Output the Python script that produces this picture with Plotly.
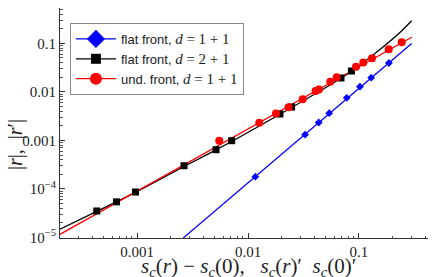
import plotly.graph_objects as go

# ---- data ----
flat11_x = [0.01165, 0.03266, 0.0434, 0.0539, 0.0776, 0.102, 0.1288, 0.1862]
flat11_y = [1.79e-4, 1.31e-3, 2.34e-3, 3.63e-3, 7.54e-3, 0.01277, 0.01955, 0.0393]
flat11_fit_x = [0.00261, 0.2985]
flat11_fit_y = [9.8e-6, 0.0990]

flat21_x = [4.34e-4, 6.53e-4, 9.69e-4, 2.65e-3, 5.15e-3, 7.13e-3, 0.0194, 0.0247, 0.0689, 0.0855]
flat21_y = [3.52e-5, 5.43e-5, 8.65e-5, 3.01e-4, 6.43e-4, 9.86e-4, 3.50e-3, 4.88e-3, 0.0193, 0.0269]
flat21_fit_x = [2.02e-4, 4.34e-4, 9.69e-4, 2.65e-3, 7.13e-3, 0.0194, 0.0446, 0.0855, 0.1545, 0.2339, 0.2985]
flat21_fit_y = [1.48e-5, 3.44e-5, 8.53e-5, 2.90e-4, 9.48e-4, 3.45e-3, 0.0104, 0.0262, 0.0744, 0.1667, 0.292]

und11_x = [5.51e-3, 0.01264, 0.01786, 0.0232, 0.0311, 0.0406, 0.0436, 0.0551, 0.0630,
           0.0940, 0.1094, 0.1310, 0.1854, 0.2425]
und11_y = [9.86e-4, 2.32e-3, 3.58e-3, 4.81e-3, 7.06e-3, 0.01042, 0.01116, 0.01618, 0.01995,
           0.0330, 0.0403, 0.0491, 0.0752, 0.105]
und11_fit_x = [2.02e-4, 8.47e-3, 0.2985]
und11_fit_y = [1.164e-5, 1.387e-3, 0.133]

legend_names = ["flat front, <span style='font-family:Liberation Serif;font-size:15px'><i>d</i> = 1 + 1</span>",
                "flat front, <span style='font-family:Liberation Serif;font-size:15px'><i>d</i> = 2 + 1</span>",
                "und. front, <span style='font-family:Liberation Serif;font-size:15px'><i>d</i> = 1 + 1</span>"]

x_tickvals = [0.001, 0.01, 0.1]
x_ticktext = ["0.001", "0.01", "0.1"]
y_tickvals = [1e-5, 1e-4, 1e-3, 1e-2, 1e-1]
y_ticktext = ["10<sup>−5</sup>", "10<sup>−4</sup>", "0.001", "0.01", "0.1"]

BLUE, BLACK, RED = "#0000ff", "#000000", "#ff0000"

fig = go.Figure()
# fit lines
fig.add_trace(go.Scatter(x=flat11_fit_x, y=flat11_fit_y, mode="lines",
                         line=dict(color=BLUE, width=1.3), showlegend=False))
fig.add_trace(go.Scatter(x=flat21_fit_x, y=flat21_fit_y, mode="lines",
                         line=dict(color=BLACK, width=1.3, shape="spline", smoothing=0.5), showlegend=False))
fig.add_trace(go.Scatter(x=und11_fit_x, y=und11_fit_y, mode="lines",
                         line=dict(color=RED, width=1.3), showlegend=False))
# data markers
fig.add_trace(go.Scatter(x=flat11_x, y=flat11_y, mode="markers",
                         marker=dict(color=BLUE, symbol="diamond", size=6), showlegend=False))
fig.add_trace(go.Scatter(x=flat21_x, y=flat21_y, mode="markers",
                         marker=dict(color=BLACK, symbol="square", size=7), showlegend=False))
fig.add_trace(go.Scatter(x=und11_x, y=und11_y, mode="markers",
                         marker=dict(color=RED, symbol="circle", size=8), showlegend=False))
# legend entries
for name, col, sym, sz in zip(legend_names, [BLUE, BLACK, RED],
                              ["diamond", "square", "circle"], [14, 10, 12]):
    fig.add_trace(go.Scatter(x=[None], y=[None], mode="lines+markers", name=name,
                             line=dict(color=col, width=1.3),
                             marker=dict(color=col, symbol=sym, size=sz)))

axis_common = dict(type="log", showgrid=False, zeroline=False, showline=True,
                   linecolor="#333333", linewidth=1, ticks="inside", ticklen=5,
                   tickcolor="#333333", mirror=False, automargin=False,
                   tickfont=dict(family="Liberation Serif", size=15, color="#222222"),
                   minor=dict(ticks="inside", ticklen=2.5, tickcolor="#555555", dtick="D1",
                              showgrid=False))

sc = "<i>s</i><sub><i>c</i></sub>"
fig.update_layout(
    width=432, height=277,
    margin=dict(l=60, r=4, t=8, b=39, autoexpand=False),
    paper_bgcolor="white", plot_bgcolor="white",
    xaxis=dict(axis_common, range=[-3.694, -0.378], tickmode="array",
               tickvals=x_tickvals, ticktext=x_ticktext),
    yaxis=dict(axis_common, range=[-5.010, -0.273], tickmode="array",
               tickvals=y_tickvals, ticktext=y_ticktext),
    legend=dict(x=0.027, y=0.935, xanchor="left", yanchor="top", itemwidth=40,
                bgcolor="white", bordercolor="#888888", borderwidth=1,
                font=dict(family="Liberation Sans", size=13, color="#222222")),
    annotations=[
        dict(text=f"{sc}(<i>r</i>) − {sc}(0),\u2002 {sc}(<i>r</i>)′\u2002{sc}(0)′",
             xref="paper", yref="paper", x=(248 - 60) / 368, y=-(252 - 238) / 230,
             xanchor="center", yanchor="top", showarrow=False,
             font=dict(family="Liberation Serif", size=21, color="#222222")),
        dict(text="|<i>r</i>|,\u2002|<i>r</i>′|", textangle=-90,
             xref="paper", yref="paper", x=-(60 - 15) / 368, y=(238 - 145) / 230,
             xanchor="center", yanchor="middle", showarrow=False,
             font=dict(family="Liberation Serif", size=20, color="#222222")),
    ],
)

fig.write_html("out.html", config={"displayModeBar": False},
               post_script="document.body.style.margin='0';document.body.style.overflow='hidden';")
